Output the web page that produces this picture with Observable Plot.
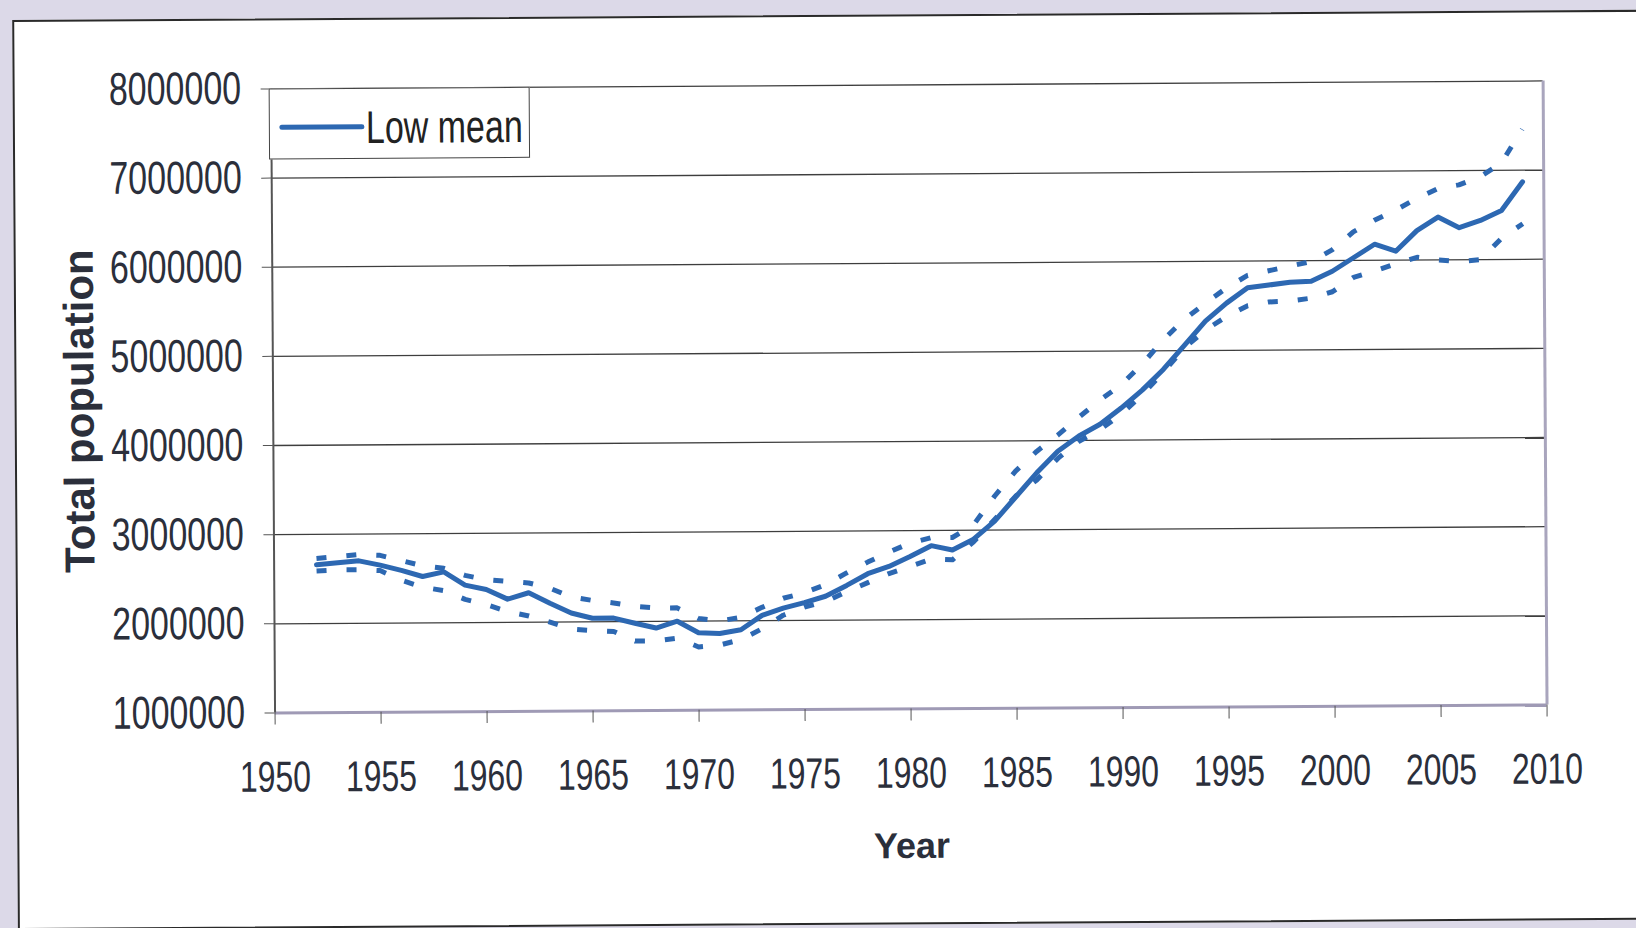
<!DOCTYPE html>
<html>
<head>
<meta charset="utf-8">
<script src="https://cdn.jsdelivr.net/npm/d3@7"></script>
<script src="https://cdn.jsdelivr.net/npm/@observablehq/plot@0.6"></script>
<style>
  html, body { margin: 0; padding: 0; width: 1636px; height: 928px; overflow: hidden; background: #dcd9e8; }
  #page { position: absolute; left: 0; top: 0; width: 1636px; height: 928px; transform: rotate(-0.36deg); transform-origin: 818px 464px; }
  #box { position: absolute; left: 15px; top: 15px; width: 1660px; height: 910px; background: #fff; border: 2px solid #2a2a2a; box-sizing: border-box; }
  #chart { position: absolute; left: 0; top: 0; }
  #legend { position: absolute; left: 271px; top: 85px; width: 261px; height: 71px; background: #fff; border: 1.5px solid #444; box-sizing: border-box; }
</style>
</head>
<body>
<div id="page">
  <div id="box"></div>
  <div id="chart"></div>
  <div id="legend"></div>
</div>
<script>
const years = [1952,1953,1954,1955,1956,1957,1958,1959,1960,1961,1962,1963,1964,1965,1966,1967,1968,1969,1970,1971,1972,1973,1974,1975,1976,1977,1978,1979,1980,1981,1982,1983,1984,1985,1986,1987,1988,1989,1990,1991,1992,1993,1994,1995,1996,1997,1998,1999,2000,2001,2002,2003,2004,2005,2006,2007,2008,2009];

const meanPop = [2660000,2680000,2700000,2650000,2590000,2520000,2570000,2420000,2370000,2260000,2330000,2210000,2100000,2040000,2040000,1980000,1925000,2000000,1870000,1860000,1900000,2060000,2140000,2200000,2270000,2390000,2520000,2600000,2710000,2830000,2780000,2900000,3100000,3370000,3640000,3880000,4050000,4180000,4360000,4560000,4790000,5060000,5330000,5530000,5700000,5730000,5760000,5770000,5880000,6030000,6180000,6100000,6330000,6480000,6360000,6440000,6550000,6870000];

const upperPop = [2730000,2750000,2770000,2760000,2700000,2640000,2610000,2530000,2480000,2460000,2440000,2380000,2280000,2240000,2210000,2170000,2150000,2150000,2030000,2000000,2040000,2150000,2250000,2310000,2400000,2530000,2650000,2760000,2860000,2920000,2920000,3060000,3380000,3660000,3880000,4060000,4260000,4450000,4620000,4850000,5120000,5350000,5530000,5700000,5840000,5890000,5940000,5990000,6120000,6320000,6450000,6560000,6690000,6800000,6840000,6930000,7080000,7460000];

const lowerPop = [2590000,2600000,2600000,2590000,2480000,2400000,2360000,2260000,2200000,2120000,2070000,2000000,1920000,1900000,1890000,1780000,1780000,1810000,1710000,1730000,1790000,1910000,2060000,2150000,2210000,2320000,2420000,2520000,2600000,2680000,2670000,2870000,3120000,3380000,3560000,3800000,3990000,4120000,4290000,4510000,4760000,5030000,5230000,5380000,5500000,5540000,5550000,5580000,5650000,5810000,5880000,5960000,6030000,6000000,5980000,6000000,6240000,6400000];

const xTicks = [1950,1955,1960,1965,1970,1975,1980,1985,1990,1995,2000,2005,2010];
const yTicks = [1000000,2000000,3000000,4000000,5000000,6000000,7000000,8000000];
const xDomain = [1950, 2010];
const yDomain = [1000000, 8000000];
const seriesName = "Low mean";
const xTitle = "Year";
const yTitle = "Total population";

const blue = "#2d68b2";
const textColor = "#2b2f3b";
const font = "'Liberation Sans', Arial, sans-serif";

const rows = years.map((year, i) => ({year, mean: meanPop[i], upper: upperPop[i], lower: lowerPop[i]}));

const chart = Plot.plot({
  width: 1636,
  height: 928,
  marginLeft: 273,
  marginRight: 91,
  marginTop: 85,
  marginBottom: 219,
  x: {domain: xDomain},
  y: {domain: yDomain},
  style: {background: "transparent", fontFamily: font, color: textColor, overflow: "visible"},
  marks: [
    Plot.gridY(yTicks.slice(1), {stroke: "#1c1c1c", strokeOpacity: 0.85, strokeWidth: 1.3}),
    Plot.ruleX([xDomain[1]], {stroke: "#a9a5bd", strokeWidth: 3}),
    Plot.ruleY([yDomain[0]], {stroke: "#9f9ab5", strokeWidth: 3}),
    Plot.ruleX([xDomain[0]], {stroke: "#555", strokeWidth: 2}),
    Plot.lineY(rows, {x: "year", y: "upper", stroke: blue, strokeWidth: 5, strokeDasharray: "10,20", strokeLinecap: "butt"}),
    Plot.lineY(rows, {x: "year", y: "lower", stroke: blue, strokeWidth: 5, strokeDasharray: "10,20", strokeLinecap: "butt"}),
    Plot.lineY(rows, {x: "year", y: "mean", stroke: blue, strokeWidth: 5, strokeLinejoin: "round"}),
    Plot.axisY({ticks: yTicks, tickFormat: d3.format("d"), tickSize: 10, tickPadding: 20, fontSize: 34, label: null, stroke: "#555"}),
    Plot.axisX({ticks: xTicks, tickFormat: d3.format("d"), tickSize: 12, tickPadding: 36, fontSize: 32, label: null, stroke: "#555"}),
    Plot.text([yTitle], {frameAnchor: "left", textAnchor: "middle", rotate: -90, dx: -193, dy: 9, fontSize: 42, fontWeight: "bold", fill: textColor, ariaLabel: "y title"}),
    Plot.text([xTitle], {frameAnchor: "bottom", textAnchor: "middle", dy: 149, fontSize: 36, fontWeight: "bold", fill: textColor, ariaLabel: "x title"})
  ]
});

function stretchY(el, s) {
  let t = el.getAttribute("transform") || "";
  const x = el.getAttribute("x"), y = el.getAttribute("y");
  if (x && !/em/.test(x)) { t += ` translate(${x},0)`; el.removeAttribute("x"); }
  if (y && !/em/.test(y)) { t += ` translate(0,${y})`; el.removeAttribute("y"); }
  el.setAttribute("transform", `${t} scale(1,${s})`);
}
chart.querySelectorAll('[aria-label="y-axis tick label"] text').forEach(el => stretchY(el, 1.35));
chart.querySelectorAll('[aria-label="x-axis tick label"] text').forEach(el => stretchY(el, 1.35));
chart.querySelectorAll('[aria-label="x title"] text').forEach(el => stretchY(el, 1.37));
chart.querySelectorAll('[aria-label="y title"] text').forEach(el => el.setAttribute("letter-spacing", "1px"));

document.getElementById("chart").appendChild(chart);

// legend
const lg = d3.select("#legend").append("svg").attr("width", 258).attr("height", 68).style("overflow", "visible");
lg.append("line").attr("x1", 12).attr("x2", 92).attr("y1", 38).attr("y2", 38)
  .attr("stroke", blue).attr("stroke-width", 5).attr("stroke-linecap", "round");
lg.append("text").attr("transform", "translate(96,38) scale(1,1.35)").attr("dy", "0.35em")
  .attr("font-family", font).attr("font-size", 34).attr("fill", "#222").text(seriesName);
</script>
</body>
</html>
